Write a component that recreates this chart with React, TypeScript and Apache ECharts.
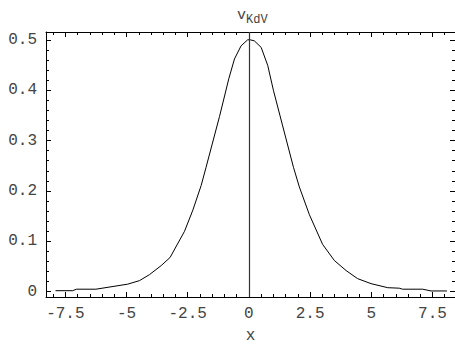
import React, { useEffect, useRef } from "react";
import * as echarts from "echarts";

const X_DATA = [-7.9, -7.2, -7.05, -6.25, -4.95, -4.47, -4.06, -3.58, -3.22, -2.63, -2.29, -1.95, -1.75, -1.2, -0.82, -0.59, -0.32, -0.05, 0.05, 0.22, 0.5, 0.77, 1.0, 1.38, 1.82, 2.06, 2.47, 3.01, 3.49, 3.97, 4.44, 4.99, 5.67, 6.14, 6.28, 7.1, 7.44, 8.09];
const V_DATA = [0.002, 0.002, 0.005, 0.005, 0.015, 0.022, 0.034, 0.052, 0.068, 0.12, 0.162, 0.211, 0.247, 0.348, 0.423, 0.462, 0.488, 0.5, 0.5, 0.498, 0.485, 0.449, 0.4, 0.329, 0.247, 0.208, 0.153, 0.094, 0.062, 0.042, 0.026, 0.016, 0.008, 0.007, 0.005, 0.005, 0.0015, 0.0015];

const X_TICKS = [-7.5, -5, -2.5, 0, 2.5, 5, 7.5];
const X_TICK_LABELS = ["-7.5", "-5", "-2.5", "0", "2.5", "5", "7.5"];
const X_MINOR = [-8, -7, -6.5, -6, -5.5, -4.5, -4, -3.5, -3, -2, -1.5, -1, -0.5, 0.5, 1, 1.5, 2, 3, 3.5, 4, 4.5, 5.5, 6, 6.5, 7, 8];
const Y_TICKS = [0, 0.1, 0.2, 0.3, 0.4, 0.5];
const Y_TICK_LABELS = ["0", "0.1", "0.2", "0.3", "0.4", "0.5"];
const Y_MINOR = [0.02, 0.04, 0.06, 0.08, 0.12, 0.14, 0.16, 0.18, 0.22, 0.24, 0.26, 0.28, 0.32, 0.34, 0.36, 0.38, 0.42, 0.44, 0.46, 0.48];

const FONT = "'Liberation Mono', 'Courier New', monospace";
const TXT = "#444";

export default function App() {
  const ref = useRef<HTMLDivElement>(null);
  useEffect(() => {
    if (!ref.current) return;
    const chart = echarts.init(ref.current, undefined, { renderer: "svg" });
    const xMin = -8.29, xMax = 8.42, yMin = -0.0105, yMax = 0.5155;
    const baseX = (pos: string, major: boolean, labels: boolean, extra: any = {}) => ({
      type: "value",
      position: pos,
      min: xMin,
      max: xMax,
      axisLine: { show: major, onZero: false, lineStyle: { color: "#000", width: 1 } },
      axisTick: { show: true, inside: true, length: major ? 5 : 3, customValues: major ? X_TICKS : X_MINOR, lineStyle: { color: "#000", width: 1 } },
      axisLabel: labels
        ? { show: true, customValues: X_TICKS, formatter: (v: number) => X_TICK_LABELS[X_TICKS.indexOf(v)] ?? String(v), color: TXT, fontFamily: FONT, fontSize: 16, margin: 9 }
        : { show: false },
      splitLine: { show: false },
      ...extra,
    });
    const baseY = (pos: string, major: boolean, labels: boolean, showLine: boolean) => ({
      type: "value",
      position: pos,
      min: yMin,
      max: yMax,
      axisLine: { show: showLine, onZero: false, lineStyle: { color: "#000", width: 1 } },
      axisTick: { show: true, inside: true, length: major ? 5 : 3, customValues: major ? Y_TICKS : Y_MINOR, lineStyle: { color: "#000", width: 1 } },
      axisLabel: labels
        ? { show: true, customValues: Y_TICKS, formatter: (v: number) => Y_TICK_LABELS[Y_TICKS.indexOf(v)] ?? String(v), color: TXT, fontFamily: FONT, fontSize: 16, margin: 9 }
        : { show: false },
      splitLine: { show: false },
    });
    chart.setOption({
      animation: false,
      backgroundColor: "#fff",
      grid: { left: 46, right: -1, top: 32, bottom: 47 },
      title: {
        text: "{v|v}{s|KdV}",
        left: 232,
        top: 3,
        textStyle: {
          fontWeight: "normal",
          rich: {
            v: { fontFamily: FONT, fontSize: 15, fontWeight: "normal", color: TXT, lineHeight: 18, verticalAlign: "top" },
            s: { fontFamily: FONT, fontSize: 12, fontWeight: "normal", color: TXT, lineHeight: 18, padding: [6, 0, 0, 0] },
          },
        },
      },
      xAxis: [
        baseX("bottom", true, true, { name: "x", nameLocation: "middle", nameGap: 31, nameTextStyle: { color: TXT, fontFamily: FONT, fontSize: 16 } }),
        baseX("bottom", false, false),
        baseX("top", true, false),
        baseX("top", false, false),
      ],
      yAxis: [
        baseY("left", true, true, true),
        baseY("left", false, false, false),
        baseY("right", true, false, true),
        baseY("right", false, false, false),
      ],
      series: [
        {
          type: "line",
          xAxisIndex: 0,
          yAxisIndex: 0,
          data: X_DATA.map((x, i) => [x, V_DATA[i]]),
          showSymbol: false,
          symbol: "none",
          lineStyle: { color: "#000", width: 1 },
          markLine: {
            silent: true,
            symbol: "none",
            label: { show: false },
            lineStyle: { color: "#333", width: 1.2, type: "solid" },
            data: [{ xAxis: 0 }],
          },
        },
      ],
    });
    return () => chart.dispose();
  }, []);
  return <div ref={ref} style={{ position: "fixed", left: 0, top: 0, width: 455, height: 349 }} />;
}
